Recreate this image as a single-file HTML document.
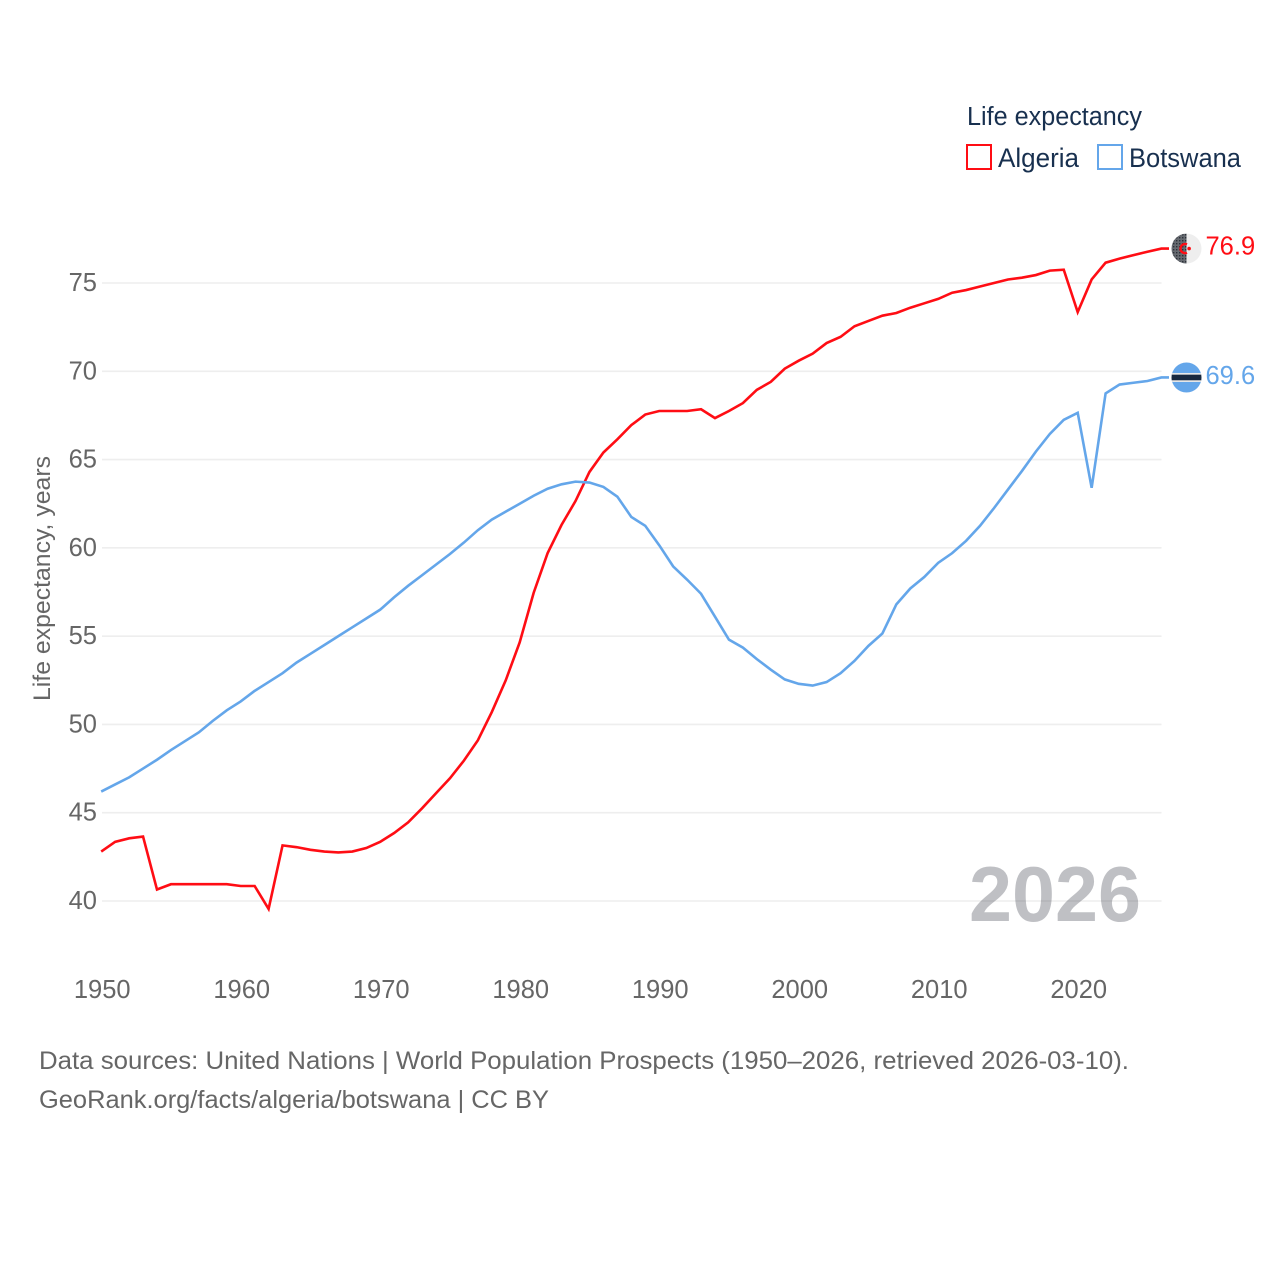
<!DOCTYPE html>
<html lang="en">
<head>
<meta charset="utf-8">
<title>Life expectancy: Algeria and Botswana</title>
<style>
html,body{margin:0;padding:0;background:#fff;}
svg{display:block;font-family:"Liberation Sans",sans-serif;}
</style>
</head>
<body>
<svg id="chart" xmlns="http://www.w3.org/2000/svg" width="1280" height="1280" viewBox="0 0 1280 1280">
  <defs>
    <pattern id="dots" width="3" height="3" patternUnits="userSpaceOnUse">
      <rect width="3" height="3" fill="#666a70"/>
      <rect width="1.4" height="1.4" fill="#2c3038"/>
    </pattern>
    <clipPath id="flag-clip-a"><circle id="clip-a" r="15"/></clipPath>
    <clipPath id="flag-clip-b"><circle id="clip-b" r="15"/></clipPath>
  </defs>
  <rect width="1280" height="1280" fill="#fff"/>

  <g id="grid"></g>
  <g id="y-ticks" font-size="25.5" fill="#666" text-anchor="end"></g>
  <g id="x-ticks" font-size="25.5" fill="#666" text-anchor="middle"></g>

  <text transform="translate(50,701) rotate(-90)" font-size="24" fill="#666" textLength="245" lengthAdjust="spacingAndGlyphs">Life expectancy, years</text>

  <text x="969" y="921" font-size="78" font-weight="bold" fill="#2b2f3a" fill-opacity="0.3" textLength="172" lengthAdjust="spacingAndGlyphs">2026</text>

  <g id="series"></g>
  <g id="flags"></g>

  <g fill="#18304f">
    <text x="967" y="125" font-size="25.5" textLength="175" lengthAdjust="spacingAndGlyphs">Life expectancy</text>
    <rect x="967" y="145" width="24" height="24" fill="none" stroke="#ff0d14" stroke-width="2"/>
    <text x="998" y="167" font-size="26.5" textLength="81" lengthAdjust="spacingAndGlyphs">Algeria</text>
    <rect x="1098" y="145" width="24" height="24" fill="none" stroke="#64a6ea" stroke-width="2"/>
    <text x="1129" y="167" font-size="26.5" textLength="112" lengthAdjust="spacingAndGlyphs">Botswana</text>
  </g>

  <g font-size="25" fill="#666">
    <text x="39" y="1069" textLength="1090" lengthAdjust="spacingAndGlyphs">Data sources: United Nations | World Population Prospects (1950–2026, retrieved 2026-03-10).</text>
    <text x="39" y="1108" textLength="510" lengthAdjust="spacingAndGlyphs">GeoRank.org/facts/algeria/botswana | CC BY</text>
  </g>
</svg>
<script>
const startYear = 1950;
const xTickLabels = [1950,1960,1970,1980,1990,2000,2010,2020];
const yTickLabels = [40,45,50,55,60,65,70,75];
const algeria = [42.8,43.35,43.55,43.65,40.65,40.95,40.95,40.95,40.95,40.95,40.85,40.85,39.55,43.15,43.05,42.9,42.8,42.75,42.8,43.0,43.35,43.85,44.45,45.25,46.1,46.95,47.95,49.1,50.7,52.5,54.65,57.45,59.7,61.3,62.65,64.3,65.4,66.15,66.95,67.55,67.75,67.75,67.75,67.85,67.35,67.75,68.2,68.95,69.4,70.15,70.6,71,71.6,71.95,72.55,72.85,73.15,73.3,73.6,73.85,74.1,74.45,74.6,74.8,75,75.2,75.3,75.45,75.7,75.75,73.35,75.2,76.15,76.38,76.58,76.77,76.95];
const botswana = [46.2,46.6,47.0,47.5,48,48.55,49.05,49.55,50.2,50.8,51.3,51.9,52.4,52.9,53.5,54,54.5,55,55.5,56,56.5,57.2,57.85,58.45,59.05,59.65,60.3,61,61.6,62.05,62.5,62.95,63.35,63.6,63.75,63.7,63.45,62.9,61.75,61.25,60.15,58.95,58.2,57.4,56.1,54.8,54.35,53.7,53.1,52.55,52.3,52.2,52.4,52.9,53.6,54.45,55.15,56.8,57.7,58.35,59.15,59.7,60.4,61.25,62.25,63.3,64.35,65.45,66.45,67.25,67.65,63.4,68.75,69.25,69.35,69.45,69.65];
const endLabels = ["76.9","69.6"];

const NS = 'http://www.w3.org/2000/svg';
const xScale = function (year) { return 101.2 + (year - 1950) * (1077.7 - 101.2) / 70; };
const yScale = function (v) { return 901 - (v - 40) * (901 - 283) / 35; };

function mk(tag, attrs, parent) {
  const el = document.createElementNS(NS, tag);
  for (const k in attrs) el.setAttribute(k, attrs[k]);
  parent.appendChild(el);
  return el;
}

const gridG = document.getElementById('grid');
const yG = document.getElementById('y-ticks');
const xG = document.getElementById('x-ticks');
const seriesG = document.getElementById('series');
const flagsG = document.getElementById('flags');

yTickLabels.forEach(function (v) {
  const line = mk('line', {x1: 102, x2: 1161.5, y1: yScale(v), y2: yScale(v), stroke: '#eeeeee', 'stroke-width': 1.6}, gridG);
  
  
  const t = mk('text', {x: 97, y: yScale(v) + 8}, yG);
  t.textContent = v;
  
  
});

xTickLabels.forEach(function (y) {
  const t = mk('text', {x: xScale(y) + 1, y: 998}, xG);
  t.textContent = y;
  
  
});

function pathFor(values) {
  return values.map(function (v, i) {
    return (i ? 'L' : 'M') + xScale(startYear + i).toFixed(2) + ' ' + yScale(v).toFixed(2);
  }).join('') + 'H1169';
}

const algeriaLine = mk('path', {d: pathFor(algeria), fill: 'none', stroke: '#ff0d14', 'stroke-width': 2.6, 'stroke-linejoin': 'miter'}, seriesG);



const botswanaLine = mk('path', {d: pathFor(botswana), fill: 'none', stroke: '#64a6ea', 'stroke-width': 2.6, 'stroke-linejoin': 'miter'}, seriesG);



/* Algeria flag */
const cx = 1186.5;
const ay = yScale(algeria[algeria.length - 1]);
document.getElementById('clip-a').setAttribute('cx', cx);
document.getElementById('clip-a').setAttribute('cy', ay);
const flagA = mk('g', {'clip-path': 'url(#flag-clip-a)'}, flagsG);


mk('rect', {x: cx - 15, y: ay - 15, width: 15, height: 30, fill: 'url(#dots)'}, flagA);
mk('rect', {x: cx, y: ay - 15, width: 15, height: 30, fill: '#eeeeee'}, flagA);
mk('path', {d: 'M' + (cx + 0.5) + ' ' + (ay - 4.2) + 'A4.6 4.6 0 1 0 ' + (cx + 0.5) + ' ' + (ay + 4.2), fill: 'none', stroke: '#ff0d14', 'stroke-width': 2.4}, flagA);
mk('circle', {cx: cx + 2.6, cy: ay, r: 1.8, fill: '#ff0d14'}, flagA);

/* Botswana flag */
const by = yScale(botswana[botswana.length - 1]);
document.getElementById('clip-b').setAttribute('cx', cx);
document.getElementById('clip-b').setAttribute('cy', by);
const flagB = mk('g', {'clip-path': 'url(#flag-clip-b)'}, flagsG);


mk('rect', {x: cx - 15, y: by - 15, width: 30, height: 30, fill: '#64a6ea'}, flagB);
mk('rect', {x: cx - 15, y: by - 4.5, width: 30, height: 9, fill: '#e8e8e8'}, flagB);
mk('rect', {x: cx - 15, y: by - 2.8, width: 30, height: 5.6, fill: '#18283f'}, flagB);

const labelA = mk('text', {x: 1205.5, y: ay + 6, 'font-size': 25.5, fill: '#ff0d14'}, flagsG);
labelA.textContent = endLabels[0];



const labelB = mk('text', {x: 1205.5, y: by + 6.5, 'font-size': 25.5, fill: '#64a6ea'}, flagsG);
labelB.textContent = endLabels[1];


</script>
</body>
</html>
